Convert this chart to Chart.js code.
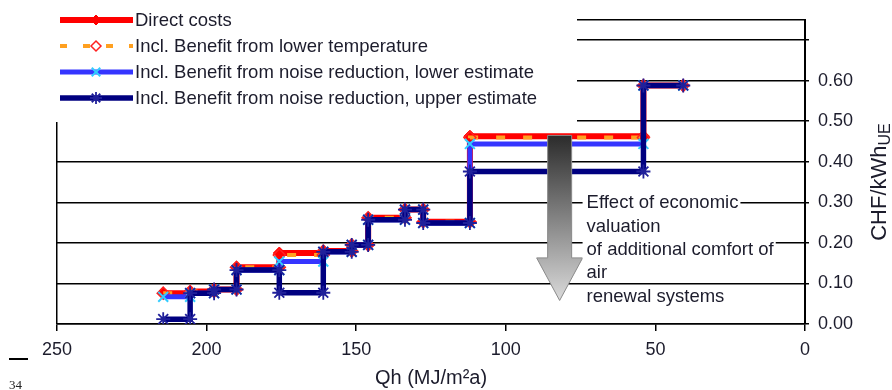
<!DOCTYPE html>
<html>
<head>
<meta charset="utf-8">
<script src="https://cdn.jsdelivr.net/npm/chart.js@4.4.0/dist/chart.umd.min.js"></script>
<style>
html,body{margin:0;padding:0;background:#fff;}
#wrap{position:relative;width:892px;height:390px;}
#pageRule{position:absolute;left:9px;top:358px;width:19px;height:0;border-top:2px solid #000;}
#pageNo{position:absolute;left:9px;top:377px;font:13px "Liberation Serif","DejaVu Serif",serif;color:#222;line-height:15px;}
</style>
</head>
<body>
<div id="wrap">
<canvas id="graphCanvas" width="892" height="390" style="width:892px;height:390px"></canvas>
<div id="pageRule"></div>
<div id="pageNo">34</div>
</div>
<script>
// step breakpoints on the Qh axis (MJ/m2a), one level per step between two breakpoints
var qhBreaks = [214.5, 205.5, 197.5, 190, 175.7, 161, 151.5, 146, 133.7, 127.6, 112, 54, 40.7];
var directCosts = [0.076, 0.08, 0.085, 0.14, 0.175, 0.18, 0.195, 0.262, 0.282, 0.252, 0.463, 0.588];
var lowerTemp   = [0.076, 0.08, 0.085, 0.14, 0.17, 0.18, 0.195, 0.262, 0.282, 0.252, 0.46, 0.588];
var noiseLower  = [0.067, 0.076, 0.085, 0.133, 0.154, 0.178, 0.195, 0.257, 0.282, 0.249, 0.444, 0.588];
var noiseUpper  = [0.012, 0.076, 0.085, 0.133, 0.077, 0.178, 0.195, 0.257, 0.282, 0.249, 0.376, 0.588];

var xTicks = [250, 200, 150, 100, 50, 0];
var yTicks = [0, 0.1, 0.2, 0.3, 0.4, 0.5, 0.6, 0.7, 0.75];
var yTickLabels = ["0.00", "0.10", "0.20", "0.30", "0.40", "0.50", "0.60", "", ""];

var seriesNames = ["Direct costs", "Incl. Benefit from lower temperature",
  "Incl. Benefit from noise reduction, lower estimate", "Incl. Benefit from noise reduction, upper estimate"];
var noteLines = ["Effect of economic", "valuation", "of additional comfort of", "air", "renewal systems"];

function steps(levels){
  var pts = [];
  for (var i = 0; i < levels.length; i++) {
    pts.push({x: qhBreaks[i], y: levels[i]});
    pts.push({x: qhBreaks[i + 1], y: levels[i]});
  }
  return pts;
}

var txtColor = '#1c1c2c';
var txtFont = '18.5px "Liberation Sans", Arial, sans-serif';
Chart.defaults.font.family = '"Liberation Sans", Arial, sans-serif';
Chart.defaults.font.size = 18;
Chart.defaults.color = txtColor;

var styles = [
  {line: '#ff0000', width: 6, dash: [], point: 'rectRot', pr: 6, pfill: '#ff0000', pborder: '#ff0000', pbw: 1, order: 3},
  {line: '#ffa020', width: 4, dash: [9, 18], point: 'rectRot', pr: 6, pfill: 'rgba(0,0,0,0)', pborder: '#ff2020', pbw: 1.5, order: 2},
  {line: '#3535ff', width: 5, dash: [], point: 'crossRot', pr: 7, pfill: '#33ccff', pborder: '#33ccff', pbw: 2, order: 1},
  {line: '#000080', width: 5.5, dash: [], point: 'star', pr: 7, pfill: '#000080', pborder: '#20209a', pbw: 1.8, order: 0}
];
var allLevels = [directCosts, lowerTemp, noiseLower, noiseUpper];

var datasets = allLevels.map(function(lv, i){
  var s = styles[i];
  return {
    label: seriesNames[i],
    data: steps(lv),
    borderColor: s.line,
    borderWidth: s.width,
    borderDash: s.dash,
    borderCapStyle: 'butt',
    borderJoinStyle: 'miter',
    pointStyle: s.point,
    pointRadius: s.pr,
    pointBackgroundColor: s.pfill,
    pointBorderColor: s.pborder,
    pointBorderWidth: s.pbw,
    fill: false,
    tension: 0,
    order: s.order
  };
});

function mark(ctx, s, x, y, fill){
  ctx.save();
  ctx.fillStyle = fill || s.pfill;
  ctx.strokeStyle = s.pborder;
  ctx.lineWidth = s.pbw;
  Chart.helpers.drawPoint(ctx, {pointStyle: s.point, radius: s.pr - 1, rotation: 0, borderWidth: s.pbw}, x, y);
  ctx.restore();
}

var boxLegend = {
  id: 'boxLegend',
  afterDraw: function(chart){
    var ctx = chart.ctx;
    ctx.save();
    ctx.fillStyle = '#fff';
    ctx.fillRect(0, 0, 577, 122);
    ctx.font = txtFont;
    ctx.textBaseline = 'middle';
    for (var i = 0; i < seriesNames.length; i++) {
      var s = styles[i];
      var y = 20 + i * 26;
      ctx.beginPath();
      ctx.strokeStyle = s.line;
      ctx.lineWidth = s.width;
      ctx.setLineDash(s.dash.length ? [7, 16] : []);
      ctx.moveTo(60, y);
      ctx.lineTo(133, y);
      ctx.stroke();
      ctx.setLineDash([]);
      mark(ctx, s, 96, y, i === 1 ? '#fff' : null);
      ctx.fillStyle = txtColor;
      ctx.fillText(seriesNames[i], 135, y + 1);
    }
    ctx.restore();
  }
};

// grey arrow and its note, placed in data units
var arrowQh = 82, arrowTop = 0.465, arrowNeck = 0.163, arrowTip = 0.058;
var noteQh = 73, noteTop = 0.30;

var arrowNote = {
  id: 'arrowNote',
  afterDatasetsDraw: function(chart){
    var ctx = chart.ctx, xs = chart.scales.x, ys = chart.scales.y;
    var cx = xs.getPixelForValue(arrowQh);
    var top = ys.getPixelForValue(arrowTop), neck = ys.getPixelForValue(arrowNeck), tip = ys.getPixelForValue(arrowTip);
    ctx.save();
    var g = ctx.createLinearGradient(0, top, 0, tip);
    g.addColorStop(0, '#2b2b2b');
    g.addColorStop(1, '#dadada');
    ctx.beginPath();
    ctx.moveTo(cx - 12, top);
    ctx.lineTo(cx + 12, top);
    ctx.lineTo(cx + 12, neck);
    ctx.lineTo(cx + 23, neck);
    ctx.lineTo(cx, tip);
    ctx.lineTo(cx - 23, neck);
    ctx.lineTo(cx - 12, neck);
    ctx.closePath();
    ctx.fillStyle = g;
    ctx.fill();
    ctx.strokeStyle = '#8a8a8a';
    ctx.lineWidth = 1;
    ctx.stroke();

    var nx = xs.getPixelForValue(noteQh), ny = ys.getPixelForValue(noteTop);
    ctx.font = txtFont;
    ctx.textBaseline = 'middle';
    for (var i = 0; i < noteLines.length; i++) {
      var y = ny + i * 23.3;
      var w = ctx.measureText(noteLines[i]).width;
      ctx.fillStyle = '#fff';
      ctx.fillRect(nx - 4, y - 10, w + 6, 20);
      ctx.fillStyle = txtColor;
      ctx.fillText(noteLines[i], nx, y + 1);
    }

    // right axis title with subscript
    ctx.translate(886, 182);
    ctx.rotate(-Math.PI / 2);
    ctx.font = '22px "Liberation Sans", Arial, sans-serif';
    var main = 'CHF/kWh';
    var mw = ctx.measureText(main).width;
    ctx.font = '16px "Liberation Sans", Arial, sans-serif';
    var sw = ctx.measureText('UE').width;
    var x0 = -(mw + sw) / 2;
    ctx.fillStyle = txtColor;
    ctx.textAlign = 'left';
    ctx.textBaseline = 'alphabetic';
    ctx.font = '22px "Liberation Sans", Arial, sans-serif';
    ctx.fillText(main, x0, 0);
    ctx.font = '16px "Liberation Sans", Arial, sans-serif';
    ctx.fillText('UE', x0 + mw, 4);
    ctx.restore();
  }
};

var graphTarget = document.getElementById('graphCanvas');
var lineGraph = new Chart(graphTarget, {
  type: 'line',
  data: {datasets: datasets},
  options: {
    responsive: false,
    animation: false,
    layout: {padding: {left: 57, top: 19, right: 0, bottom: 0}},
    plugins: {legend: {display: false}, tooltip: {enabled: false}},
    scales: {
      x: {
        type: 'linear',
        reverse: true,
        min: 0,
        max: 250,
        afterBuildTicks: function(s){ s.ticks = xTicks.map(function(v){ return {value: v}; }); },
        afterFit: function(s){ s.height = 66; },
        ticks: {padding: 8, maxRotation: 0, autoSkip: false, color: txtColor},
        grid: {
          color: function(c){ return c.tick && c.tick.value === 250 ? '#000' : 'rgba(0,0,0,0)'; },
          lineWidth: 1.5,
          tickColor: '#000',
          tickLength: 7
        },
        border: {display: true, color: '#000', width: 1.5},
        title: {display: true, text: 'Qh (MJ/m²a)', font: {size: 20}, color: txtColor, padding: {top: 0, bottom: 0}}
      },
      y: {
        type: 'linear',
        position: 'right',
        min: 0,
        max: 0.75,
        afterBuildTicks: function(s){ s.ticks = yTicks.map(function(v){ return {value: v}; }); },
        afterFit: function(s){ s.width = 87; },
        ticks: {
          padding: 9,
          crossAlign: 'near',
          color: txtColor,
          callback: function(v, i){ return yTickLabels[i]; }
        },
        grid: {
          color: '#000',
          lineWidth: 1.5,
          tickLength: 4,
          tickColor: function(c){ return c.tick && c.tick.value === 0.75 ? 'rgba(0,0,0,0)' : '#000'; }
        },
        border: {display: true, color: '#000', width: 2}
      }
    }
  },
  plugins: [arrowNote, boxLegend]
});
</script>
</body>
</html>
